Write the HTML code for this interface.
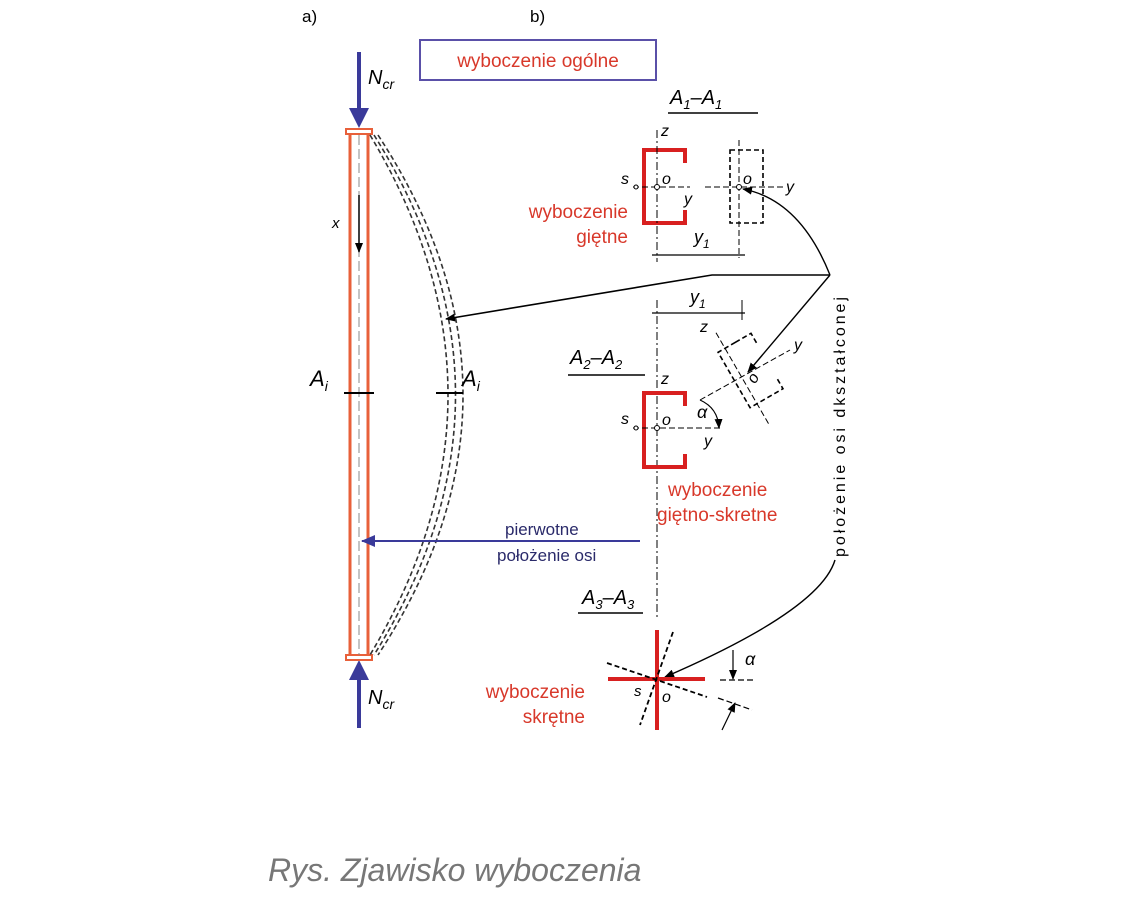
<!DOCTYPE html>
<html><head><meta charset="utf-8"><style>
html,body{margin:0;padding:0;background:#fff;}
svg{display:block;}
text{font-family:"Liberation Sans",sans-serif;}
</style></head><body>
<svg width="1125" height="910" viewBox="0 0 1125 910" xmlns="http://www.w3.org/2000/svg">
<defs>
<marker id="ab" markerWidth="10" markerHeight="10" refX="9" refY="5" orient="auto" markerUnits="userSpaceOnUse"><path d="M0,1 L10,5 L0,9 z" fill="#000"/></marker>
<marker id="abl" markerWidth="14" markerHeight="14" refX="13" refY="7" orient="auto" markerUnits="userSpaceOnUse"><path d="M0,1 L14,7 L0,13 z" fill="#3a3a9a"/></marker>
</defs>
<text x="302" y="22" font-size="17">a)</text>
<text x="530" y="22" font-size="17">b)</text>

<rect x="420" y="40" width="236" height="40" fill="none" stroke="#5a50a8" stroke-width="2"/>
<text x="538" y="67" font-size="19" fill="#d8382a" text-anchor="middle">wyboczenie ogólne</text>

<line x1="359" y1="52" x2="359" y2="112" stroke="#3a3a9a" stroke-width="4"/>
<path d="M349,108 L369,108 L359,128 z" fill="#3a3a9a"/>
<line x1="359" y1="728" x2="359" y2="676" stroke="#3a3a9a" stroke-width="4"/>
<path d="M349,680 L369,680 L359,660 z" fill="#3a3a9a"/>
<text x="368" y="84" font-size="20" font-style="italic">N<tspan font-size="14" dy="5">cr</tspan></text>
<text x="368" y="704" font-size="20" font-style="italic">N<tspan font-size="14" dy="5">cr</tspan></text>

<g stroke="#e8603a" stroke-width="3" fill="none">
<line x1="350" y1="134" x2="350" y2="655"/>
<line x1="368" y1="134" x2="368" y2="655"/>
<rect x="346" y="129" width="26" height="5" stroke-width="2"/>
<rect x="346" y="655" width="26" height="5" stroke-width="2"/>
</g>
<line x1="359" y1="135" x2="359" y2="655" stroke="#888" stroke-width="1" stroke-dasharray="10,4"/>
<text x="332" y="228" font-size="15" font-style="italic">x</text>
<line x1="359" y1="195" x2="359" y2="252" stroke="#000" stroke-width="1.5" marker-end="url(#ab)"/>

<g fill="none" stroke="#333" stroke-width="1.6" stroke-dasharray="5,3">
<path d="M370,135 Q526,395 370,655"/>
<path d="M374,135 Q537,395 374,655"/>
<path d="M378,135 Q548,395 378,655"/>
</g>
<text x="310" y="386" font-size="22" font-style="italic">A<tspan font-size="14" dy="5">i</tspan></text>
<text x="462" y="386" font-size="22" font-style="italic">A<tspan font-size="14" dy="5">i</tspan></text>
<line x1="344" y1="393" x2="374" y2="393" stroke="#000" stroke-width="2"/>
<line x1="436" y1="393" x2="463" y2="393" stroke="#000" stroke-width="2"/>

<text x="670" y="104" font-size="20" font-style="italic">A<tspan font-size="13" dy="5">1</tspan><tspan dy="-5">–A</tspan><tspan font-size="13" dy="5">1</tspan></text>
<line x1="668" y1="113" x2="758" y2="113" stroke="#000" stroke-width="1.5"/>
<path d="M685,163 L685,150 L644,150 L644,223 L685,223 L685,210" fill="none" stroke="#d82020" stroke-width="4"/>
<line x1="657" y1="130" x2="657" y2="262" stroke="#000" stroke-width="1" stroke-dasharray="8,3,2,3"/>
<line x1="633" y1="187" x2="690" y2="187" stroke="#000" stroke-width="1" stroke-dasharray="6,3"/>
<circle cx="657" cy="187" r="2.5" fill="#fff" stroke="#000"/>
<circle cx="636" cy="187" r="2" fill="#fff" stroke="#000"/>
<text x="661" y="136" font-size="16" font-style="italic">z</text>
<text x="621" y="184" font-size="16" font-style="italic">s</text>
<text x="662" y="184" font-size="16" font-style="italic">o</text>
<text x="684" y="204" font-size="16" font-style="italic">y</text>
<rect x="730" y="150" width="33" height="73" fill="none" stroke="#000" stroke-width="1.6" stroke-dasharray="5,3"/>
<line x1="739" y1="140" x2="739" y2="258" stroke="#000" stroke-width="1" stroke-dasharray="6,3"/>
<line x1="705" y1="187" x2="785" y2="187" stroke="#000" stroke-width="1" stroke-dasharray="6,3"/>
<circle cx="739" cy="187" r="2.5" fill="#fff" stroke="#000"/>
<text x="743" y="184" font-size="16" font-style="italic">o</text>
<text x="786" y="192" font-size="16" font-style="italic">y</text>
<line x1="652" y1="255" x2="745" y2="255" stroke="#000" stroke-width="1.2"/>
<text x="694" y="243" font-size="18" font-style="italic">y<tspan font-size="12" dy="5">1</tspan></text>
<text x="628" y="218" font-size="19" fill="#d8382a" text-anchor="end">wyboczenie</text>
<text x="628" y="243" font-size="19" fill="#d8382a" text-anchor="end">giętne</text>

<polyline points="830,275 712,275 446,319" fill="none" stroke="#000" stroke-width="1.6" marker-end="url(#ab)"/>
<path d="M830,275 Q800,200 743,189" fill="none" stroke="#000" stroke-width="1.4" marker-end="url(#ab)"/>
<line x1="830" y1="275" x2="748" y2="372" stroke="#000" stroke-width="1.4" marker-end="url(#ab)"/>
<path d="M835,560 Q820,610 665,677" fill="none" stroke="#000" stroke-width="1.4" marker-end="url(#ab)"/>
<text transform="translate(845,427) rotate(-90)" font-size="16" text-anchor="middle" textLength="260" lengthAdjust="spacing">położenie  osi  dkształconej</text>

<line x1="652" y1="313" x2="745" y2="313" stroke="#000" stroke-width="1.2"/>
<text x="690" y="303" font-size="18" font-style="italic">y<tspan font-size="12" dy="5">1</tspan></text>
<line x1="742" y1="300" x2="742" y2="320" stroke="#000" stroke-width="1"/>
<line x1="657" y1="300" x2="657" y2="620" stroke="#000" stroke-width="1" stroke-dasharray="8,3,2,3"/>
<text x="570" y="364" font-size="20" font-style="italic">A<tspan font-size="13" dy="5">2</tspan><tspan dy="-5">–A</tspan><tspan font-size="13" dy="5">2</tspan></text>
<line x1="568" y1="375" x2="645" y2="375" stroke="#000" stroke-width="1.5"/>
<path d="M685,406 L685,393 L644,393 L644,467 L685,467 L685,454" fill="none" stroke="#d82020" stroke-width="4"/>
<line x1="633" y1="428" x2="722" y2="428" stroke="#000" stroke-width="1" stroke-dasharray="6,3"/>
<circle cx="657" cy="428" r="2.5" fill="#fff" stroke="#000"/>
<circle cx="636" cy="428" r="2" fill="#fff" stroke="#000"/>
<text x="661" y="384" font-size="16" font-style="italic">z</text>
<text x="621" y="424" font-size="16" font-style="italic">s</text>
<text x="662" y="425" font-size="16" font-style="italic">o</text>
<text x="704" y="446" font-size="16" font-style="italic">y</text>
<text x="697" y="418" font-size="18" font-style="italic">α</text>
<path d="M700,400 Q718,408 719,428" fill="none" stroke="#000" stroke-width="1.2" marker-end="url(#ab)"/>
<line x1="700" y1="400" x2="790" y2="350" stroke="#000" stroke-width="1" stroke-dasharray="6,3"/>
<g transform="translate(741,376) rotate(-30)">
<path d="M12,-32 L30,-32 L30,-20 M12,32 L30,32 L30,20 M12,-32 L-8,-32 L-8,32 L12,32" fill="none" stroke="#000" stroke-width="1.6" stroke-dasharray="5,3"/>
<line x1="0" y1="-50" x2="0" y2="55" stroke="#000" stroke-width="1" stroke-dasharray="6,3"/>
</g>
<text x="700" y="332" font-size="16" font-style="italic">z</text>
<text x="794" y="350" font-size="16" font-style="italic">y</text>
<text x="748" y="384" font-size="16" font-style="italic" transform="rotate(-60 752 378)">o</text>
<text x="668" y="496" font-size="19" fill="#d8382a">wyboczenie</text>
<text x="657" y="521" font-size="19" fill="#d8382a">giętno-skretne</text>

<text x="505" y="535" font-size="17" fill="#2a2a6a">pierwotne</text>
<text x="497" y="561" font-size="17" fill="#2a2a6a">położenie osi</text>
<line x1="640" y1="541" x2="362" y2="541" stroke="#3a3a9a" stroke-width="2" marker-end="url(#abl)"/>

<text x="582" y="604" font-size="20" font-style="italic">A<tspan font-size="13" dy="5">3</tspan><tspan dy="-5">–A</tspan><tspan font-size="13" dy="5">3</tspan></text>
<line x1="578" y1="613" x2="643" y2="613" stroke="#000" stroke-width="1.5"/>
<line x1="657" y1="630" x2="657" y2="730" stroke="#d82020" stroke-width="4"/>
<line x1="608" y1="679" x2="705" y2="679" stroke="#d82020" stroke-width="4"/>
<line x1="607" y1="663" x2="707" y2="697" stroke="#000" stroke-width="1.8" stroke-dasharray="5,3"/>
<line x1="673" y1="632" x2="640" y2="725" stroke="#000" stroke-width="1.8" stroke-dasharray="5,3"/>
<text x="634" y="696" font-size="15" font-style="italic">s</text>
<text x="662" y="702" font-size="16" font-style="italic">o</text>
<line x1="720" y1="680" x2="755" y2="680" stroke="#000" stroke-width="1.2" stroke-dasharray="6,3"/>
<line x1="733" y1="650" x2="733" y2="679" stroke="#000" stroke-width="1.2" marker-end="url(#ab)"/>
<text x="745" y="665" font-size="18" font-style="italic">α</text>
<line x1="718" y1="698" x2="752" y2="710" stroke="#000" stroke-width="1.2" stroke-dasharray="6,3"/>
<line x1="722" y1="730" x2="735" y2="703" stroke="#000" stroke-width="1.2" marker-end="url(#ab)"/>
<text x="585" y="698" font-size="19" fill="#d8382a" text-anchor="end">wyboczenie</text>
<text x="585" y="723" font-size="19" fill="#d8382a" text-anchor="end">skrętne</text>

<text x="268" y="881" font-size="32" font-style="italic" fill="#777">Rys. Zjawisko wyboczenia</text>
</svg>
</body></html>
